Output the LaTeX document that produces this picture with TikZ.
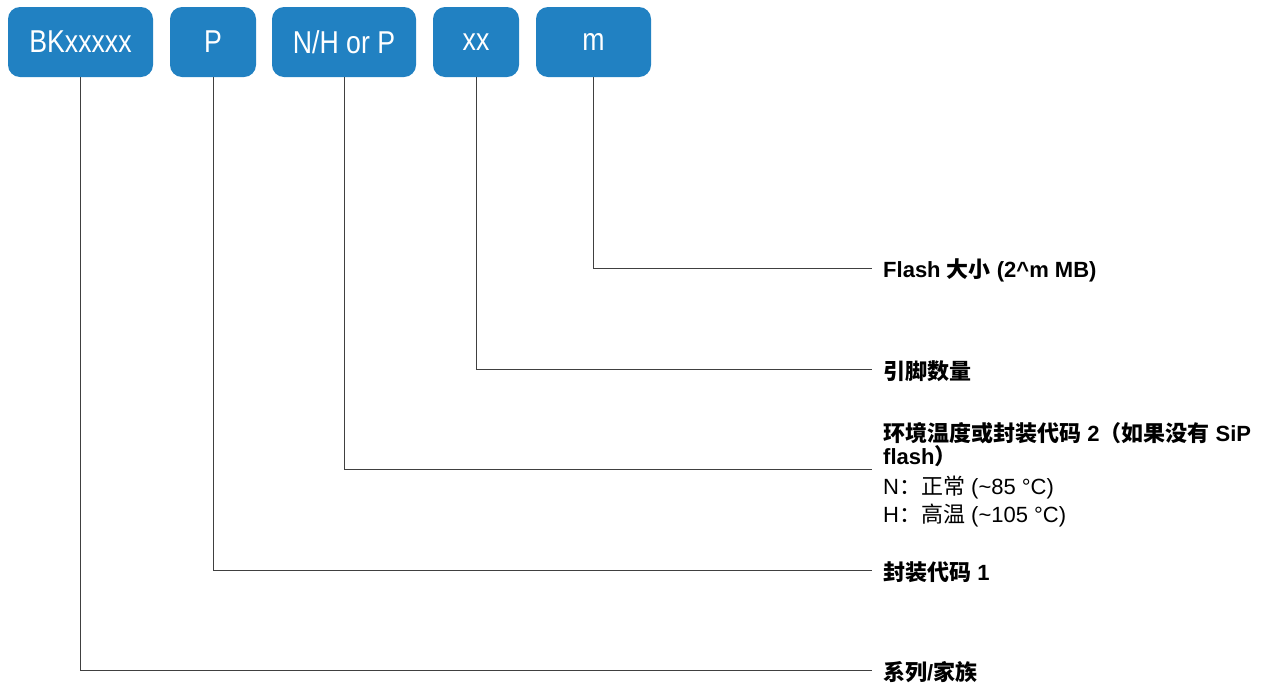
\documentclass[tikz,border=0pt]{standalone}
\usepackage{fontspec}
\setmainfont{Liberation Sans}
\newfontfamily\cjk{Noto Sans CJK SC}
\definecolor{boxblue}{RGB}{33,129,194}
\definecolor{wiregray}{RGB}{64,64,64}
\newcommand{\tallt}[1]{\scalebox{0.97}[1.15]{#1}}
\begin{document}
\begin{tikzpicture}[x=1pt,y=-1pt,
  codebox/.style={fill=boxblue, rounded corners=12pt, text=white, minimum height=70pt,
    font=\fontsize{27.5}{30}\selectfont, inner sep=0pt},
  lblb/.style={anchor=base west, inner sep=0pt, font=\bfseries\fontsize{22}{25}\selectfont},
  lblr/.style={anchor=base west, inner sep=0pt, font=\fontsize{22}{25}\selectfont},
  wire/.style={draw=wiregray, line width=1pt}]
\useasboundingbox (0,0) rectangle (1276,686);
% boxes
\node[codebox, minimum width=145pt] (bk) at (80.5,42) {\tallt{BKxxxxx}};
\node[codebox, minimum width=86pt]  (p)  at (213,42) {\tallt{P}};
\node[codebox, minimum width=144pt] (nh) at (344,42) {\tallt{N/H or P}};
\node[codebox, minimum width=86pt]  (xx) at (476,42) {\tallt{xx}};
\node[codebox, minimum width=115pt] (m)  at (593.5,42) {\tallt{m}};
% end points
\coordinate (em)  at (872,268);
\coordinate (exx) at (872,369);
\coordinate (enh) at (872,469);
\coordinate (ep)  at (872,570);
\coordinate (ebk) at (872,670);
% labels
\node[lblb] (lm)  at (883,277) {Flash {\cjk 大小} (2\^{}m MB)};
\node[lblb] (lxx) at (883,379) {\cjk 引脚数量};
\node[lblb] (lnh1) at (883,441) {{\cjk 环境温度或封装代码} 2{\cjk （如果没有} SiP};
\node[lblb] (lnh2) at (883,464) {flash{\cjk ）}};
\node[lblr] (lnh3) at (883,494) {N{\cjk ：正常} (\textasciitilde 85 °C)};
\node[lblr] (lnh4) at (883,522) {H{\cjk ：高温} (\textasciitilde 105 °C)};
\node[lblb] (lp)  at (883,580) {{\cjk 封装代码} 1};
\node[lblb] (lbk) at (883,680) {{\cjk 系列}/{\cjk 家族}};
% connectors
\draw[wire] (m.south)  |- (em);
\draw[wire] (xx.south) |- (exx);
\draw[wire] (nh.south) |- (enh);
\draw[wire] (p.south)  |- (ep);
\draw[wire] (bk.south) |- (ebk);
\end{tikzpicture}
\end{document}
